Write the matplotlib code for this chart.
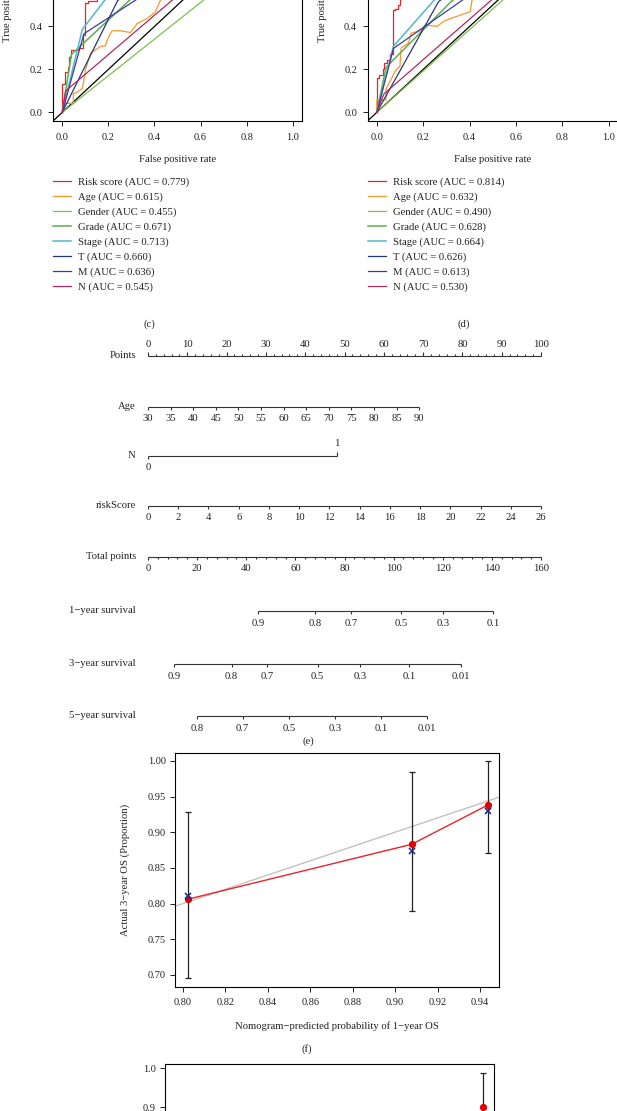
import numpy as np
import matplotlib
matplotlib.use('Agg')
import matplotlib.pyplot as plt
from matplotlib.ticker import FormatStrFormatter

plt.rcParams['font.family'] = ['Liberation Serif', 'DejaVu Serif']
TXT = '#222222'
plt.rcParams['text.color'] = TXT
plt.rcParams['axes.labelcolor'] = TXT
plt.rcParams['xtick.color'] = TXT
plt.rcParams['ytick.color'] = TXT

# ---------------- data ----------------
roc_names = ['Risk score', 'Age', 'Gender', 'Grade', 'Stage', 'T', 'M', 'N']
roc_colors = ['#E8232B', '#F39A2C', '#7CC04A', '#5DAE4E', '#4FB9C9', '#26367E', '#3E3BA3', '#B3285E']
roc_lw = [0.9, 0.9, 0.9, 1.1, 1.1, 0.9, 0.9, 0.9]
auc_c = [0.779, 0.615, 0.455, 0.671, 0.713, 0.660, 0.636, 0.545]
auc_d = [0.814, 0.632, 0.490, 0.628, 0.664, 0.626, 0.613, 0.530]
roc_ticks_visible = [0.0, 0.2, 0.4]

# panel (c) ROC curves
c_risk_fpr = [0, 0, 0.01, 0.01, 0.025, 0.025, 0.03, 0.03, 0.04, 0.04, 0.07, 0.07, 0.09, 0.09, 0.10, 0.10,
              0.11, 0.11, 0.15, 0.15, 0.22, 0.22, 0.32, 0.32, 0.45, 0.45, 0.62, 0.62, 0.80, 0.80, 1.0]
c_risk_tpr = [0, 0.13, 0.13, 0.19, 0.19, 0.21, 0.21, 0.26, 0.26, 0.29, 0.29, 0.30, 0.30, 0.36, 0.36, 0.51,
              0.51, 0.52, 0.52, 0.60, 0.60, 0.70, 0.70, 0.79, 0.79, 0.88, 0.88, 0.95, 0.95, 1.0, 1.0]
c_age_fpr = [0, 0.007, 0.048, 0.048, 0.068, 0.087, 0.094, 0.101, 0.123, 0.144, 0.166, 0.188, 0.195, 0.216,
             0.253, 0.296, 0.325, 0.368, 0.404, 0.426, 0.50, 0.60, 0.75, 0.90, 1.0]
c_age_tpr = [0, 0.042, 0.042, 0.088, 0.096, 0.112, 0.150, 0.198, 0.276, 0.291, 0.307, 0.310, 0.338, 0.380,
             0.380, 0.372, 0.414, 0.437, 0.468, 0.522, 0.60, 0.70, 0.83, 0.95, 1.0]
c_gender_fpr = [0, 0.61, 1]
c_gender_tpr = [0, 0.52, 1]
c_grade_fpr = [0, 0.04, 0.30, 0.68, 1]
c_grade_tpr = [0, 0.27, 0.53, 0.86, 1]
c_stage_fpr = [0, 0.087, 0.19, 0.42, 0.72, 1]
c_stage_tpr = [0, 0.386, 0.53, 0.74, 0.90, 1]
c_t_fpr = [0, 0.24, 0.62, 1]
c_t_tpr = [0, 0.52, 0.84, 1]
c_m_fpr = [0, 0.094, 1]
c_m_tpr = [0, 0.366, 1]
c_n_fpr = [0, 0.015, 1]
c_n_tpr = [0, 0.10, 1]

# panel (d) ROC curves
d_risk_fpr = [0, 0, 0.01, 0.01, 0.025, 0.025, 0.033, 0.033, 0.045, 0.045, 0.055, 0.055, 0.068, 0.068, 0.08, 0.08,
              0.09, 0.09, 0.10, 0.10, 0.16, 0.16, 0.25, 0.25, 0.38, 0.38, 0.55, 0.55, 0.75, 0.75, 1.0]
d_risk_tpr = [0, 0.16, 0.16, 0.175, 0.175, 0.20, 0.20, 0.23, 0.23, 0.245, 0.245, 0.27, 0.27, 0.475, 0.475, 0.48,
              0.48, 0.50, 0.50, 0.62, 0.62, 0.74, 0.74, 0.83, 0.83, 0.91, 0.91, 0.97, 0.97, 1.0, 1.0]
d_age_fpr = [0, 0, 0.04, 0.04, 0.06, 0.079, 0.10, 0.105, 0.137, 0.148, 0.187, 0.21, 0.259, 0.295, 0.403, 0.41,
             0.50, 0.62, 0.78, 0.90, 1.0]
d_age_tpr = [0, 0.058, 0.058, 0.11, 0.15, 0.192, 0.215, 0.30, 0.323, 0.369, 0.38, 0.408, 0.40, 0.428, 0.469, 0.52,
             0.62, 0.74, 0.87, 0.95, 1.0]
d_gender_fpr = [0, 0.55, 1]
d_gender_tpr = [0, 0.53, 1]
d_grade_fpr = [0, 0.04, 0.32, 0.70, 1]
d_grade_tpr = [0, 0.21, 0.515, 0.86, 1]
d_stage_fpr = [0, 0.072, 0.245, 0.50, 0.80, 1]
d_stage_tpr = [0, 0.308, 0.52, 0.74, 0.92, 1]
d_t_fpr = [0, 0.266, 0.62, 1]
d_t_tpr = [0, 0.515, 0.82, 1]
d_m_fpr = [0, 0.072, 1]
d_m_tpr = [0, 0.298, 1]
d_n_fpr = [0, 0.03, 1]
d_n_tpr = [0, 0.085, 1]

# nomogram (e)
points_major = [0, 10, 20, 30, 40, 50, 60, 70, 80, 90, 100]
points_minor_step = 2
age_vals = [30, 35, 40, 45, 50, 55, 60, 65, 70, 75, 80, 85, 90]
age_max_points = 69.0          # points at age 90
n_labels = ['0', '1']
n_points = [0.0, 48.1]
risk_vals = [0, 2, 4, 6, 8, 10, 12, 14, 16, 18, 20, 22, 24, 26]
risk_max_points = 100.0
total_major = [0, 20, 40, 60, 80, 100, 120, 140, 160]
total_minor_step = 4
total_max = 160
surv1_labels = ['0.9', '0.8', '0.7', '0.5', '0.3', '0.1']
surv1_total = [44.7, 68.1, 82.8, 103.2, 120.3, 140.5]
surv3_labels = ['0.9', '0.8', '0.7', '0.5', '0.3', '0.1', '0.01']
surv3_total = [10.7, 34.0, 48.6, 69.1, 86.3, 106.3, 127.5]
surv5_labels = ['0.8', '0.7', '0.5', '0.3', '0.1', '0.01']
surv5_total = [19.9, 38.5, 57.4, 76.2, 94.9, 113.7]

# calibration (f)
cal_pred = [0.8022, 0.9078, 0.9437]
cal_obs = [0.806, 0.883, 0.938]
cal_corr = [0.811, 0.873, 0.930]
cal_lo = [0.696, 0.790, 0.871]
cal_hi = [0.928, 0.985, 1.000]
cal_xticks = [0.80, 0.82, 0.84, 0.86, 0.88, 0.90, 0.92, 0.94]
cal_yticks = [0.70, 0.75, 0.80, 0.85, 0.90, 0.95, 1.00]

# calibration (g), partially visible
g_pred = [0.909]
g_obs = [0.899]
g_lo = [0.80]
g_hi = [0.987]
g_yticks_visible = [0.9, 1.0]

# ---------------- figure ----------------
W, H = 617, 1111
DPI = 100
fig = plt.figure(figsize=(W / DPI, H / DPI), dpi=DPI)


def ax_px(left, top, right, bottom):
    return fig.add_axes([left / W, 1 - bottom / H, (right - left) / W, (bottom - top) / H])


FS = 7.7


def roc_panel(left, right, curves, aucs, leg_x, tag, tag_x, ylab_x):
    ax = ax_px(left, -111, right, 121)
    ax.set_xlim(-0.04, 1.04)
    ax.set_ylim(-0.04, 1.04)
    ax.axline((0, 0), slope=1, color='black', lw=0.9, zorder=1)
    handles = []
    for (fx, ty), col, lw, nm, a in zip(curves, roc_colors, roc_lw, roc_names, aucs):
        h, = ax.plot(fx, ty, color=col, lw=lw, label=f'{nm} (AUC = {a:.3f})', zorder=2)
        handles.append(h)
    ax.set_xticks([0, 0.2, 0.4, 0.6, 0.8, 1.0])
    ax.set_yticks(roc_ticks_visible)
    ax.xaxis.set_major_formatter(FormatStrFormatter('%.1f'))
    ax.yaxis.set_major_formatter(FormatStrFormatter('%.1f'))
    ax.tick_params(labelsize=7.5, length=3.5, width=0.7, direction='out')
    ax.tick_params(axis='x', pad=5)
    ax.tick_params(axis='y', pad=4)
    for s in ax.spines.values():
        s.set_linewidth(0.8)
    ax.set_xlabel('False positive rate', fontsize=FS)
    ax.xaxis.set_label_coords(0.5, -0.145)
    ax.set_ylabel('True positive rate', fontsize=FS)
    ax.yaxis.set_label_coords(-(left - ylab_x) / (right - left), 0.5)
    fig.legend(handles=handles, loc='upper left', bbox_to_anchor=(leg_x / W, 1 - 177 / H),
               frameon=False, borderpad=0, borderaxespad=0, handlelength=1.7,
               handletextpad=0.65, labelspacing=0.5, fontsize=FS)
    fig.text(tag_x / W, 1 - 324 / H, tag, ha='center', va='center', fontsize=FS)
    return ax


curves_c = [(c_risk_fpr, c_risk_tpr), (c_age_fpr, c_age_tpr), (c_gender_fpr, c_gender_tpr),
            (c_grade_fpr, c_grade_tpr), (c_stage_fpr, c_stage_tpr), (c_t_fpr, c_t_tpr),
            (c_m_fpr, c_m_tpr), (c_n_fpr, c_n_tpr)]
curves_d = [(d_risk_fpr, d_risk_tpr), (d_age_fpr, d_age_tpr), (d_gender_fpr, d_gender_tpr),
            (d_grade_fpr, d_grade_tpr), (d_stage_fpr, d_stage_tpr), (d_t_fpr, d_t_tpr),
            (d_m_fpr, d_m_tpr), (d_n_fpr, d_n_tpr)]

axc = roc_panel(53, 302, curves_c, auc_c, 53, '(c)', 149, 12)
axd = roc_panel(367.5, 618, curves_d, auc_d, 368, '(d)', 464, 327)

# ---------------- nomogram ----------------
axn = ax_px(148, 335, 541, 760)
axn.set_xlim(0, 100)
axn.set_ylim(760, 335)
axn.axis('off')
LW = 0.8
KW = dict(color='#333333', lw=LW, clip_on=False, solid_capstyle='butt')


def nom_row(y, name, pos, labels, tick_dir=1, label_side=1, minor=None, ticklen=3.5, lab_off=12):
    # tick_dir / label_side: +1 below line (larger pixel row), -1 above
    axn.plot([min(pos), max(pos)], [y, y], **KW)
    for p in pos:
        axn.plot([p, p], [y, y + tick_dir * ticklen], **KW)
    if minor is not None:
        for p in minor:
            axn.plot([p, p], [y, y + tick_dir * ticklen * 0.7], **KW)
    for p, l in zip(pos, labels):
        axn.text(p, y + label_side * lab_off, l, ha='center', va='center', fontsize=FS)
    axn.text(-3.1, y, name, ha='right', va='center', fontsize=FS)


# Points
pts_minor = [v for v in range(0, 101, points_minor_step) if v not in points_major]
nom_row(356, 'Points', points_major, [str(v) for v in points_major], tick_dir=-1, label_side=-1,
        minor=pts_minor, lab_off=11.5)
# Age
age_pos = [(a - age_vals[0]) / (age_vals[-1] - age_vals[0]) * age_max_points for a in age_vals]
nom_row(407, 'Age', age_pos, [str(a) for a in age_vals], tick_dir=1, label_side=1)
# N
yN = 456
axn.plot([n_points[0], n_points[1]], [yN, yN], **KW)
axn.plot([n_points[0], n_points[0]], [yN, yN + 3.5], **KW)
axn.plot([n_points[1], n_points[1]], [yN, yN - 3.5], **KW)
axn.text(n_points[0], yN + 12, n_labels[0], ha='center', va='center', fontsize=FS)
axn.text(n_points[1], yN - 12, n_labels[1], ha='center', va='center', fontsize=FS)
axn.text(-3.1, yN, 'N', ha='right', va='center', fontsize=FS)
# riskScore
risk_pos = [v / risk_vals[-1] * risk_max_points for v in risk_vals]
nom_row(506, 'riskScore', risk_pos, [str(v) for v in risk_vals], tick_dir=1, label_side=1)
# Total points
tot_pos = [v / total_max * 100 for v in total_major]
tot_minor = [v / total_max * 100 for v in range(0, total_max + 1, total_minor_step) if v not in total_major]
nom_row(557, 'Total points', tot_pos, [str(v) for v in total_major], tick_dir=1, label_side=1,
        minor=tot_minor)
# survival rows
for y, nm, lab, tp in [(611, '1\u2212year survival', surv1_labels, surv1_total),
                       (664, '3\u2212year survival', surv3_labels, surv3_total),
                       (716, '5\u2212year survival', surv5_labels, surv5_total)]:
    pos = [t / total_max * 100 for t in tp]
    nom_row(y, nm, pos, lab, tick_dir=1, label_side=1, lab_off=13)
fig.text(308 / W, 1 - 741 / H, '(e)', ha='center', va='center', fontsize=FS)

# ---------------- calibration (f) ----------------
axf = ax_px(175, 753, 499, 987)
axf.set_xlim(0.7962, 0.949)
axf.set_ylim(0.683, 1.011)
axf.axline((0.8, 0.8), slope=1, color='#C2C2C2', lw=1.0, zorder=1)
yerr = [np.array(cal_obs) - np.array(cal_lo), np.array(cal_hi) - np.array(cal_obs)]
axf.errorbar(cal_pred, cal_obs, yerr=yerr, fmt='none', ecolor='#222222', elinewidth=0.9,
             capsize=2.3, capthick=0.9, zorder=2)
axf.plot(cal_pred, cal_obs, color='#E8232B', lw=1.0, marker='o', ms=4.2, mfc='#E00000',
         mec='#E00000', zorder=3)
axf.plot(cal_pred, cal_corr, ls='none', marker='x', ms=3.8, mew=1.2, color='#1F2F8F', zorder=4)
axf.set_xticks(cal_xticks)
axf.set_yticks(cal_yticks)
axf.xaxis.set_major_formatter(FormatStrFormatter('%.2f'))
axf.yaxis.set_major_formatter(FormatStrFormatter('%.2f'))
axf.tick_params(labelsize=7.5, length=3.5, width=0.7, direction='out')
axf.tick_params(axis='x', pad=4.5)
axf.tick_params(axis='y', pad=3)
for s in axf.spines.values():
    s.set_linewidth(0.8)
axf.set_xlabel('Nomogram\u2212predicted probability of 1\u2212year OS', fontsize=FS)
axf.xaxis.set_label_coords(0.5, -(1021 - 987) / 234)
axf.set_ylabel('Actual 3\u2212year OS (Proportion)', fontsize=FS)
axf.yaxis.set_label_coords(-(175 - 130) / 324, 0.5)
fig.text(307 / W, 1 - 1049 / H, '(f)', ha='center', va='center', fontsize=FS)

# ---------------- calibration (g), cut off ----------------
axg = ax_px(165, 1064, 494, 1282.5)
axg.set_xlim(0.60, 0.92)
axg.set_ylim(0.45, 1.0103)
yerr_g = [np.array(g_obs) - np.array(g_lo), np.array(g_hi) - np.array(g_obs)]
axg.errorbar(g_pred, g_obs, yerr=yerr_g, fmt='none', ecolor='#222222', elinewidth=0.9,
             capsize=2.3, capthick=0.9, zorder=2)
axg.plot(g_pred, g_obs, ls='none', marker='o', ms=4.2, mfc='#E00000', mec='#E00000', zorder=3)
axg.set_yticks(g_yticks_visible)
axg.yaxis.set_major_formatter(FormatStrFormatter('%.1f'))
axg.set_xticks([])
axg.tick_params(labelsize=7.5, length=3.5, width=0.7, direction='out', pad=3)
for s in axg.spines.values():
    s.set_linewidth(0.8)

fig.savefig('out.png', dpi=DPI)
